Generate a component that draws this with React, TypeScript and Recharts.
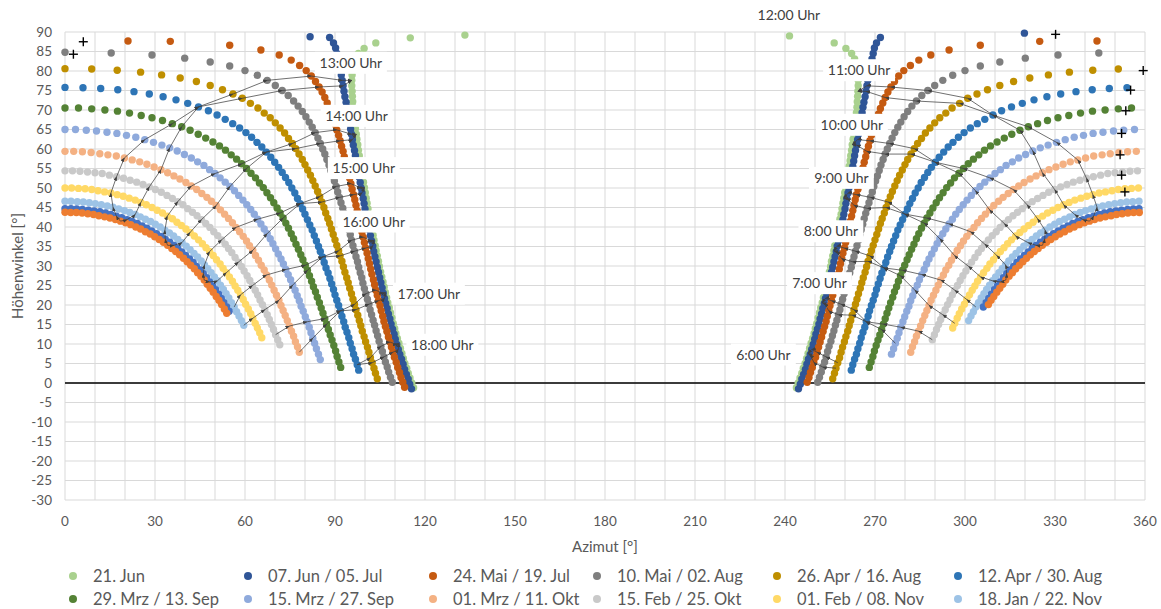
import React from 'react';
import { ScatterChart, Scatter, XAxis, YAxis, CartesianGrid, ReferenceLine, ReferenceDot } from 'recharts';

type Pt = [number, number];

const AZ_TICKS = [0, 10, 20, 30, 40, 50, 60, 70, 80, 90, 100, 110, 120, 130, 140, 150, 160, 170, 180, 190, 200, 210, 220, 230, 240, 250, 260, 270, 280, 290, 300, 310, 320, 330, 340, 350, 360];
const EL_TICKS = [-30, -25, -20, -15, -10, -5, 0, 5, 10, 15, 20, 25, 30, 35, 40, 45, 50, 55, 60, 65, 70, 75, 80, 85, 90];

// sun positions [azimut, höhenwinkel] every 6 minutes, afternoon then morning
const jun21: Pt[] = [
  [133.3,89.2],[115.1,88.5],[103.6,87.2],[99.7,85.8],[97.8,84.5],[96.8,83.1],[96.2,81.7],[95.9,80.3],[95.7,79.0],[95.6,77.6],[95.6,76.2],[95.7,74.8],[95.8,73.5],[95.9,72.1],[96.0,70.7],[96.2,69.3],[96.4,68.0],[96.6,66.6],[96.8,65.2],[97.1,63.8],[97.3,62.5],[97.6,61.1],[97.8,59.7],[98.1,58.3],[98.3,57.0],[98.6,55.6],[98.9,54.2],[99.2,52.9],[99.5,51.5],[99.8,50.1],[100.1,48.8],[100.4,47.4],[100.7,46.1],[101.0,44.7],[101.3,43.3],[101.7,42.0],[102.0,40.6],[102.3,39.3],[102.7,37.9],[103.0,36.6],[103.4,35.2],[103.7,33.9],[104.1,32.6],[104.5,31.2],[104.8,29.9],[105.2,28.5],[105.6,27.2],[106.0,25.9],[106.4,24.6],[106.8,23.2],[107.2,21.9],[107.6,20.6],[108.1,19.3],[108.5,18.0],[109.0,16.7],[109.4,15.3],[109.9,14.0],[110.3,12.7],[110.8,11.4],[111.3,10.2],[111.8,8.9],[112.3,7.6],[112.8,6.3],[113.3,5.0],[113.9,3.8],[114.4,2.5],[115.0,1.3],[115.6,0.0],[116.2,-1.2],
  [243.8,-1.2],[244.4,0.0],[245.0,1.3],[245.6,2.5],[246.1,3.8],[246.7,5.0],[247.2,6.3],[247.7,7.6],[248.2,8.9],[248.7,10.2],[249.2,11.4],[249.7,12.7],[250.1,14.0],[250.6,15.3],[251.0,16.7],[251.5,18.0],[251.9,19.3],[252.4,20.6],[252.8,21.9],[253.2,23.2],[253.6,24.6],[254.0,25.9],[254.4,27.2],[254.8,28.5],[255.2,29.9],[255.5,31.2],[255.9,32.6],[256.3,33.9],[256.6,35.2],[257.0,36.6],[257.3,37.9],[257.7,39.3],[258.0,40.6],[258.3,42.0],[258.7,43.3],[259.0,44.7],[259.3,46.1],[259.6,47.4],[259.9,48.8],[260.2,50.1],[260.5,51.5],[260.8,52.9],[261.1,54.2],[261.4,55.6],[261.7,57.0],[261.9,58.3],[262.2,59.7],[262.4,61.1],[262.7,62.5],[262.9,63.8],[263.2,65.2],[263.4,66.6],[263.6,68.0],[263.8,69.3],[264.0,70.7],[264.1,72.1],[264.2,73.5],[264.3,74.8],[264.4,76.2],[264.4,77.6],[264.3,79.0],[264.1,80.3],[263.8,81.7],[263.2,83.1],[262.2,84.5],[260.3,85.8],[256.4,87.2],[241.5,89.0],
];
const jun07: Pt[] = [
  [81.7,88.8],[88.2,88.6],[89.5,87.2],[90.2,85.9],[90.6,84.5],[91.0,83.1],[91.4,81.7],[91.7,80.3],[92.1,79.0],[92.4,77.6],[92.7,76.2],[93.0,74.8],[93.3,73.4],[93.7,72.0],[94.0,70.7],[94.3,69.3],[94.6,67.9],[94.9,66.5],[95.2,65.1],[95.5,63.8],[95.8,62.4],[96.1,61.0],[96.5,59.6],[96.8,58.3],[97.1,56.9],[97.4,55.5],[97.7,54.2],[98.0,52.8],[98.4,51.4],[98.7,50.0],[99.0,48.7],[99.4,47.3],[99.7,46.0],[100.0,44.6],[100.4,43.2],[100.7,41.9],[101.1,40.5],[101.5,39.2],[101.8,37.8],[102.2,36.4],[102.6,35.1],[102.9,33.7],[103.3,32.4],[103.7,31.1],[104.1,29.7],[104.5,28.4],[104.9,27.0],[105.3,25.7],[105.7,24.4],[106.1,23.0],[106.5,21.7],[106.9,20.4],[107.4,19.1],[107.8,17.7],[108.3,16.4],[108.7,15.1],[109.2,13.8],[109.7,12.5],[110.1,11.2],[110.6,9.9],[111.1,8.6],[111.6,7.3],[112.2,6.1],[112.7,4.8],[113.2,3.5],[113.8,2.2],[114.4,1.0],[114.9,-0.3],[115.5,-1.5],
  [244.5,-1.5],[245.1,-0.3],[245.6,1.0],[246.2,2.2],[246.8,3.5],[247.3,4.8],[247.8,6.1],[248.4,7.3],[248.9,8.6],[249.4,9.9],[249.9,11.2],[250.3,12.5],[250.8,13.8],[251.3,15.1],[251.7,16.4],[252.2,17.7],[252.6,19.1],[253.1,20.4],[253.5,21.7],[253.9,23.0],[254.3,24.4],[254.7,25.7],[255.1,27.0],[255.5,28.4],[255.9,29.7],[256.3,31.1],[256.7,32.4],[257.1,33.7],[257.4,35.1],[257.8,36.4],[258.2,37.8],[258.5,39.2],[258.9,40.5],[259.3,41.9],[259.6,43.2],[260.0,44.6],[260.3,46.0],[260.6,47.3],[261.0,48.7],[261.3,50.0],[261.6,51.4],[262.0,52.8],[262.3,54.2],[262.6,55.5],[262.9,56.9],[263.2,58.3],[263.5,59.6],[263.9,61.0],[264.2,62.4],[264.5,63.8],[264.8,65.1],[265.1,66.5],[265.4,67.9],[265.7,69.3],[266.0,70.7],[266.3,72.0],[266.7,73.4],[267.0,74.8],[267.3,76.2],[267.6,77.6],[267.9,79.0],[268.3,80.3],[268.6,81.7],[269.0,83.1],[269.4,84.5],[269.8,85.9],[270.5,87.2],[271.8,88.6],[319.8,89.7],
];
const mai24: Pt[] = [
  [21.0,87.7],[35.1,87.6],[54.9,86.6],[65.3,85.4],[71.4,84.1],[75.4,82.8],[78.2,81.4],[80.4,80.1],[82.1,78.7],[83.5,77.3],[84.7,75.9],[85.7,74.6],[86.6,73.2],[87.4,71.8],[88.2,70.4],[88.8,69.0],[89.5,67.7],[90.1,66.3],[90.6,64.9],[91.2,63.5],[91.7,62.1],[92.2,60.7],[92.7,59.4],[93.1,58.0],[93.6,56.6],[94.0,55.2],[94.5,53.8],[94.9,52.5],[95.3,51.1],[95.7,49.7],[96.2,48.3],[96.6,47.0],[97.0,45.6],[97.4,44.2],[97.8,42.8],[98.2,41.5],[98.6,40.1],[99.0,38.7],[99.4,37.4],[99.8,36.0],[100.2,34.6],[100.7,33.3],[101.1,31.9],[101.5,30.6],[101.9,29.2],[102.3,27.9],[102.8,26.5],[103.2,25.2],[103.6,23.8],[104.1,22.5],[104.5,21.1],[105.0,19.8],[105.4,18.5],[105.9,17.1],[106.3,15.8],[106.8,14.5],[107.3,13.2],[107.8,11.8],[108.3,10.5],[108.8,9.2],[109.3,7.9],[109.8,6.6],[110.4,5.3],[110.9,4.0],[111.5,2.7],[112.0,1.4],[112.6,0.2],[113.2,-1.1],
  [247.4,0.2],[248.0,1.4],[248.5,2.7],[249.1,4.0],[249.6,5.3],[250.2,6.6],[250.7,7.9],[251.2,9.2],[251.7,10.5],[252.2,11.8],[252.7,13.2],[253.2,14.5],[253.7,15.8],[254.1,17.1],[254.6,18.5],[255.0,19.8],[255.5,21.1],[255.9,22.5],[256.4,23.8],[256.8,25.2],[257.2,26.5],[257.7,27.9],[258.1,29.2],[258.5,30.6],[258.9,31.9],[259.3,33.3],[259.8,34.6],[260.2,36.0],[260.6,37.4],[261.0,38.7],[261.4,40.1],[261.8,41.5],[262.2,42.8],[262.6,44.2],[263.0,45.6],[263.4,47.0],[263.8,48.3],[264.3,49.7],[264.7,51.1],[265.1,52.5],[265.5,53.8],[266.0,55.2],[266.4,56.6],[266.9,58.0],[267.3,59.4],[267.8,60.7],[268.3,62.1],[268.8,63.5],[269.4,64.9],[269.9,66.3],[270.5,67.7],[271.2,69.0],[271.8,70.4],[272.6,71.8],[273.4,73.2],[274.3,74.6],[275.3,75.9],[276.5,77.3],[277.9,78.7],[279.6,80.1],[281.8,81.4],[284.6,82.8],[288.6,84.1],[294.7,85.4],[305.1,86.6],[324.9,87.6],[344.0,87.7],
];
const mai10: Pt[] = [
  [0.0,84.8],[15.4,84.6],[29.0,84.1],[39.9,83.3],[48.4,82.3],[54.9,81.3],[60.0,80.1],[64.1,78.9],[67.4,77.6],[70.1,76.3],[72.4,75.0],[74.4,73.7],[76.2,72.3],[77.7,71.0],[79.1,69.6],[80.3,68.3],[81.4,66.9],[82.4,65.6],[83.4,64.2],[84.3,62.8],[85.1,61.4],[85.9,60.0],[86.6,58.7],[87.3,57.3],[88.0,55.9],[88.6,54.5],[89.2,53.1],[89.8,51.8],[90.4,50.4],[90.9,49.0],[91.5,47.6],[92.0,46.2],[92.6,44.8],[93.1,43.5],[93.6,42.1],[94.1,40.7],[94.6,39.3],[95.1,38.0],[95.5,36.6],[96.0,35.2],[96.5,33.8],[97.0,32.4],[97.5,31.1],[97.9,29.7],[98.4,28.3],[98.9,27.0],[99.3,25.6],[99.8,24.2],[100.3,22.9],[100.8,21.5],[101.3,20.2],[101.7,18.8],[102.2,17.5],[102.7,16.1],[103.2,14.8],[103.7,13.4],[104.2,12.1],[104.7,10.7],[105.3,9.4],[105.8,8.1],[106.3,6.7],[106.8,5.4],[107.4,4.1],[107.9,2.8],[108.5,1.5],[109.1,0.2],
  [250.9,0.2],[251.5,1.5],[252.1,2.8],[252.6,4.1],[253.2,5.4],[253.7,6.7],[254.2,8.1],[254.7,9.4],[255.3,10.7],[255.8,12.1],[256.3,13.4],[256.8,14.8],[257.3,16.1],[257.8,17.5],[258.3,18.8],[258.7,20.2],[259.2,21.5],[259.7,22.9],[260.2,24.2],[260.7,25.6],[261.1,27.0],[261.6,28.3],[262.1,29.7],[262.5,31.1],[263.0,32.4],[263.5,33.8],[264.0,35.2],[264.5,36.6],[264.9,38.0],[265.4,39.3],[265.9,40.7],[266.4,42.1],[266.9,43.5],[267.4,44.8],[268.0,46.2],[268.5,47.6],[269.1,49.0],[269.6,50.4],[270.2,51.8],[270.8,53.1],[271.4,54.5],[272.0,55.9],[272.7,57.3],[273.4,58.7],[274.1,60.0],[274.9,61.4],[275.7,62.8],[276.6,64.2],[277.6,65.6],[278.6,66.9],[279.7,68.3],[280.9,69.6],[282.3,71.0],[283.8,72.3],[285.6,73.7],[287.6,75.0],[289.9,76.3],[292.6,77.6],[295.9,78.9],[300.0,80.1],[305.1,81.3],[311.6,82.3],[320.1,83.3],[331.0,84.1],[344.6,84.6],
];
const apr26: Pt[] = [
  [0.0,80.6],[8.9,80.5],[17.4,80.2],[25.2,79.7],[32.2,79.0],[38.4,78.2],[43.8,77.3],[48.4,76.3],[52.5,75.2],[56.0,74.1],[59.1,73.0],[61.8,71.7],[64.3,70.5],[66.4,69.2],[68.4,68.0],[70.1,66.7],[71.7,65.4],[73.2,64.1],[74.5,62.7],[75.8,61.4],[76.9,60.1],[78.0,58.7],[79.1,57.3],[80.0,56.0],[80.9,54.6],[81.8,53.3],[82.6,51.9],[83.4,50.5],[84.2,49.1],[84.9,47.8],[85.6,46.4],[86.3,45.0],[86.9,43.6],[87.6,42.2],[88.2,40.9],[88.8,39.5],[89.4,38.1],[90.0,36.7],[90.6,35.3],[91.2,33.9],[91.7,32.6],[92.3,31.2],[92.8,29.8],[93.3,28.4],[93.9,27.0],[94.4,25.7],[94.9,24.3],[95.5,22.9],[96.0,21.5],[96.5,20.2],[97.0,18.8],[97.6,17.4],[98.1,16.0],[98.6,14.7],[99.1,13.3],[99.7,11.9],[100.2,10.6],[100.8,9.2],[101.3,7.9],[101.8,6.5],[102.4,5.2],[103.0,3.8],[103.5,2.5],[104.1,1.1],
  [255.9,1.1],[256.5,2.5],[257.0,3.8],[257.6,5.2],[258.2,6.5],[258.7,7.9],[259.2,9.2],[259.8,10.6],[260.3,11.9],[260.9,13.3],[261.4,14.7],[261.9,16.0],[262.4,17.4],[263.0,18.8],[263.5,20.2],[264.0,21.5],[264.5,22.9],[265.1,24.3],[265.6,25.7],[266.1,27.0],[266.7,28.4],[267.2,29.8],[267.7,31.2],[268.3,32.6],[268.8,33.9],[269.4,35.3],[270.0,36.7],[270.6,38.1],[271.2,39.5],[271.8,40.9],[272.4,42.2],[273.1,43.6],[273.7,45.0],[274.4,46.4],[275.1,47.8],[275.8,49.1],[276.6,50.5],[277.4,51.9],[278.2,53.3],[279.1,54.6],[280.0,56.0],[280.9,57.3],[282.0,58.7],[283.1,60.1],[284.2,61.4],[285.5,62.7],[286.8,64.1],[288.3,65.4],[289.9,66.7],[291.6,68.0],[293.6,69.2],[295.7,70.5],[298.2,71.7],[300.9,73.0],[304.0,74.1],[307.5,75.2],[311.6,76.3],[316.2,77.3],[321.6,78.2],[327.8,79.0],[334.8,79.7],[342.6,80.2],[351.1,80.5],
];
const apr12: Pt[] = [
  [0.0,75.8],[6.0,75.7],[11.9,75.5],[17.6,75.2],[23.0,74.7],[28.1,74.1],[32.7,73.4],[37.0,72.6],[40.9,71.7],[44.5,70.8],[47.8,69.8],[50.7,68.7],[53.4,67.6],[55.9,66.5],[58.2,65.4],[60.3,64.2],[62.2,63.0],[64.0,61.7],[65.6,60.5],[67.1,59.2],[68.6,57.9],[69.9,56.6],[71.2,55.3],[72.4,54.0],[73.5,52.7],[74.6,51.4],[75.6,50.0],[76.6,48.7],[77.5,47.3],[78.4,46.0],[79.2,44.6],[80.0,43.3],[80.8,41.9],[81.6,40.5],[82.4,39.2],[83.1,37.8],[83.8,36.4],[84.5,35.0],[85.1,33.7],[85.8,32.3],[86.4,30.9],[87.0,29.5],[87.7,28.2],[88.3,26.8],[88.9,25.4],[89.5,24.0],[90.0,22.6],[90.6,21.2],[91.2,19.9],[91.8,18.5],[92.3,17.1],[92.9,15.7],[93.4,14.3],[94.0,13.0],[94.6,11.6],[95.1,10.2],[95.7,8.8],[96.2,7.4],[96.8,6.1],[97.4,4.7],[97.9,3.3],
  [262.1,3.3],[262.6,4.7],[263.2,6.1],[263.8,7.4],[264.3,8.8],[264.9,10.2],[265.4,11.6],[266.0,13.0],[266.6,14.3],[267.1,15.7],[267.7,17.1],[268.2,18.5],[268.8,19.9],[269.4,21.2],[270.0,22.6],[270.5,24.0],[271.1,25.4],[271.7,26.8],[272.3,28.2],[273.0,29.5],[273.6,30.9],[274.2,32.3],[274.9,33.7],[275.5,35.0],[276.2,36.4],[276.9,37.8],[277.6,39.2],[278.4,40.5],[279.2,41.9],[280.0,43.3],[280.8,44.6],[281.6,46.0],[282.5,47.3],[283.4,48.7],[284.4,50.0],[285.4,51.4],[286.5,52.7],[287.6,54.0],[288.8,55.3],[290.1,56.6],[291.4,57.9],[292.9,59.2],[294.4,60.5],[296.0,61.7],[297.8,63.0],[299.7,64.2],[301.8,65.4],[304.1,66.5],[306.6,67.6],[309.3,68.7],[312.2,69.8],[315.5,70.8],[319.1,71.7],[323.0,72.6],[327.3,73.4],[331.9,74.1],[337.0,74.7],[342.4,75.2],[348.1,75.5],[354.0,75.7],
];
const mrz29: Pt[] = [
  [0.0,70.5],[4.5,70.5],[8.9,70.3],[13.3,70.0],[17.5,69.7],[21.5,69.2],[25.4,68.6],[29.0,68.0],[32.5,67.3],[35.8,66.5],[38.9,65.7],[41.7,64.8],[44.4,63.8],[46.9,62.8],[49.3,61.8],[51.5,60.8],[53.5,59.7],[55.4,58.5],[57.2,57.4],[58.9,56.2],[60.5,55.0],[62.0,53.8],[63.5,52.6],[64.8,51.3],[66.1,50.1],[67.3,48.8],[68.5,47.5],[69.6,46.2],[70.7,44.9],[71.7,43.6],[72.7,42.3],[73.6,41.0],[74.5,39.7],[75.4,38.3],[76.2,37.0],[77.0,35.6],[77.8,34.3],[78.6,32.9],[79.3,31.6],[80.1,30.2],[80.8,28.9],[81.5,27.5],[82.2,26.1],[82.8,24.7],[83.5,23.4],[84.1,22.0],[84.8,20.6],[85.4,19.2],[86.0,17.9],[86.6,16.5],[87.2,15.1],[87.8,13.7],[88.4,12.3],[89.0,11.0],[89.6,9.6],[90.2,8.2],[90.7,6.8],[91.3,5.4],[91.9,4.0],
  [268.1,4.0],[268.7,5.4],[269.3,6.8],[269.8,8.2],[270.4,9.6],[271.0,11.0],[271.6,12.3],[272.2,13.7],[272.8,15.1],[273.4,16.5],[274.0,17.9],[274.6,19.2],[275.2,20.6],[275.9,22.0],[276.5,23.4],[277.2,24.7],[277.8,26.1],[278.5,27.5],[279.2,28.9],[279.9,30.2],[280.7,31.6],[281.4,32.9],[282.2,34.3],[283.0,35.6],[283.8,37.0],[284.6,38.3],[285.5,39.7],[286.4,41.0],[287.3,42.3],[288.3,43.6],[289.3,44.9],[290.4,46.2],[291.5,47.5],[292.7,48.8],[293.9,50.1],[295.2,51.3],[296.5,52.6],[298.0,53.8],[299.5,55.0],[301.1,56.2],[302.8,57.4],[304.6,58.5],[306.5,59.7],[308.5,60.8],[310.7,61.8],[313.1,62.8],[315.6,63.8],[318.3,64.8],[321.1,65.7],[324.2,66.5],[327.5,67.3],[331.0,68.0],[334.6,68.6],[338.5,69.2],[342.5,69.7],[346.7,70.0],[351.1,70.3],[355.5,70.5],
];
const mrz15: Pt[] = [
  [0.0,65.0],[3.5,65.0],[7.1,64.8],[10.5,64.6],[14.0,64.3],[17.3,64.0],[20.5,63.5],[23.6,63.0],[26.6,62.4],[29.5,61.7],[32.3,61.0],[34.9,60.3],[37.4,59.5],[39.8,58.6],[42.1,57.7],[44.2,56.7],[46.3,55.8],[48.2,54.7],[50.0,53.7],[51.7,52.6],[53.4,51.5],[55.0,50.4],[56.5,49.3],[57.9,48.1],[59.3,46.9],[60.6,45.7],[61.9,44.5],[63.1,43.3],[64.2,42.0],[65.3,40.8],[66.4,39.5],[67.4,38.3],[68.4,37.0],[69.3,35.7],[70.2,34.4],[71.1,33.1],[72.0,31.8],[72.8,30.5],[73.6,29.1],[74.4,27.8],[75.2,26.5],[75.9,25.1],[76.7,23.8],[77.4,22.4],[78.1,21.1],[78.7,19.7],[79.4,18.4],[80.1,17.0],[80.7,15.7],[81.4,14.3],[82.0,12.9],[82.6,11.5],[83.2,10.2],[83.8,8.8],[84.5,7.4],[85.1,6.0],
  [275.5,7.4],[276.2,8.8],[276.8,10.2],[277.4,11.5],[278.0,12.9],[278.6,14.3],[279.3,15.7],[279.9,17.0],[280.6,18.4],[281.3,19.7],[281.9,21.1],[282.6,22.4],[283.3,23.8],[284.1,25.1],[284.8,26.5],[285.6,27.8],[286.4,29.1],[287.2,30.5],[288.0,31.8],[288.9,33.1],[289.8,34.4],[290.7,35.7],[291.6,37.0],[292.6,38.3],[293.6,39.5],[294.7,40.8],[295.8,42.0],[296.9,43.3],[298.1,44.5],[299.4,45.7],[300.7,46.9],[302.1,48.1],[303.5,49.3],[305.0,50.4],[306.6,51.5],[308.3,52.6],[310.0,53.7],[311.8,54.7],[313.7,55.8],[315.8,56.7],[317.9,57.7],[320.2,58.6],[322.6,59.5],[325.1,60.3],[327.7,61.0],[330.5,61.7],[333.4,62.4],[336.4,63.0],[339.5,63.5],[342.7,64.0],[346.0,64.3],[349.5,64.6],[352.9,64.8],[356.5,65.0],
];
const mrz01: Pt[] = [
  [0.0,59.4],[2.9,59.4],[5.8,59.3],[8.7,59.1],[11.6,58.8],[14.3,58.5],[17.1,58.2],[19.8,57.7],[22.4,57.2],[24.9,56.7],[27.3,56.1],[29.7,55.4],[32.0,54.7],[34.2,53.9],[36.3,53.1],[38.3,52.3],[40.3,51.4],[42.1,50.5],[43.9,49.6],[45.6,48.6],[47.3,47.6],[48.8,46.6],[50.4,45.5],[51.8,44.4],[53.2,43.3],[54.5,42.2],[55.8,41.1],[57.0,39.9],[58.2,38.8],[59.4,37.6],[60.5,36.4],[61.5,35.2],[62.6,34.0],[63.5,32.7],[64.5,31.5],[65.4,30.2],[66.4,29.0],[67.2,27.7],[68.1,26.4],[68.9,25.1],[69.7,23.8],[70.5,22.5],[71.3,21.2],[72.0,19.9],[72.7,18.6],[73.4,17.3],[74.1,16.0],[74.8,14.6],[75.5,13.3],[76.2,12.0],[76.8,10.6],[77.5,9.3],[78.1,7.9],
  [281.9,7.9],[282.5,9.3],[283.2,10.6],[283.8,12.0],[284.5,13.3],[285.2,14.6],[285.9,16.0],[286.6,17.3],[287.3,18.6],[288.0,19.9],[288.7,21.2],[289.5,22.5],[290.3,23.8],[291.1,25.1],[291.9,26.4],[292.8,27.7],[293.6,29.0],[294.6,30.2],[295.5,31.5],[296.5,32.7],[297.4,34.0],[298.5,35.2],[299.5,36.4],[300.6,37.6],[301.8,38.8],[303.0,39.9],[304.2,41.1],[305.5,42.2],[306.8,43.3],[308.2,44.4],[309.6,45.5],[311.2,46.6],[312.7,47.6],[314.4,48.6],[316.1,49.6],[317.9,50.5],[319.7,51.4],[321.7,52.3],[323.7,53.1],[325.8,53.9],[328.0,54.7],[330.3,55.4],[332.7,56.1],[335.1,56.7],[337.6,57.2],[340.2,57.7],[342.9,58.2],[345.7,58.5],[348.4,58.8],[351.3,59.1],[354.2,59.3],[357.1,59.4],
];
const feb15: Pt[] = [
  [0.0,54.4],[2.5,54.4],[5.0,54.3],[7.5,54.1],[10.0,53.9],[12.4,53.7],[14.8,53.3],[17.2,52.9],[19.5,52.5],[21.7,52.0],[23.9,51.5],[26.0,50.9],[28.1,50.3],[30.1,49.6],[32.1,48.9],[34.0,48.1],[35.8,47.3],[37.6,46.5],[39.3,45.7],[40.9,44.7],[42.5,43.8],[44.0,42.9],[45.5,41.9],[46.9,40.9],[48.3,39.9],[49.6,38.8],[50.9,37.8],[52.2,36.7],[53.4,35.6],[54.5,34.5],[55.6,33.4],[56.7,32.2],[57.8,31.0],[58.8,29.9],[59.7,28.7],[60.7,27.5],[61.6,26.3],[62.5,25.0],[63.4,23.8],[64.2,22.6],[65.0,21.3],[65.8,20.1],[66.6,18.8],[67.4,17.5],[68.1,16.3],[68.8,15.0],[69.5,13.7],[70.2,12.4],[70.9,11.1],[71.6,9.8],
  [289.1,11.1],[289.8,12.4],[290.5,13.7],[291.2,15.0],[291.9,16.3],[292.6,17.5],[293.4,18.8],[294.2,20.1],[295.0,21.3],[295.8,22.6],[296.6,23.8],[297.5,25.0],[298.4,26.3],[299.3,27.5],[300.3,28.7],[301.2,29.9],[302.2,31.0],[303.3,32.2],[304.4,33.4],[305.5,34.5],[306.6,35.6],[307.8,36.7],[309.1,37.8],[310.4,38.8],[311.7,39.9],[313.1,40.9],[314.5,41.9],[316.0,42.9],[317.5,43.8],[319.1,44.7],[320.7,45.7],[322.4,46.5],[324.2,47.3],[326.0,48.1],[327.9,48.9],[329.9,49.6],[331.9,50.3],[334.0,50.9],[336.1,51.5],[338.3,52.0],[340.5,52.5],[342.8,52.9],[345.2,53.3],[347.6,53.7],[350.0,53.9],[352.5,54.1],[355.0,54.3],[357.5,54.4],
];
const feb01: Pt[] = [
  [0.0,50.0],[2.2,50.0],[4.5,49.9],[6.7,49.8],[8.9,49.6],[11.0,49.3],[13.2,49.0],[15.3,48.7],[17.4,48.3],[19.4,47.9],[21.4,47.4],[23.4,46.9],[25.3,46.3],[27.1,45.7],[29.0,45.0],[30.7,44.3],[32.5,43.6],[34.1,42.8],[35.8,42.1],[37.3,41.2],[38.8,40.4],[40.3,39.5],[41.7,38.6],[43.1,37.7],[44.5,36.7],[45.8,35.7],[47.0,34.7],[48.2,33.7],[49.4,32.7],[50.5,31.6],[51.7,30.5],[52.7,29.4],[53.8,28.3],[54.8,27.2],[55.8,26.1],[56.7,24.9],[57.6,23.8],[58.5,22.6],[59.4,21.4],[60.2,20.2],[61.1,19.0],[61.9,17.8],[62.6,16.6],[63.4,15.3],[64.1,14.1],[64.9,12.9],[65.6,11.6],
  [295.9,14.1],[296.6,15.3],[297.4,16.6],[298.1,17.8],[298.9,19.0],[299.8,20.2],[300.6,21.4],[301.5,22.6],[302.4,23.8],[303.3,24.9],[304.2,26.1],[305.2,27.2],[306.2,28.3],[307.3,29.4],[308.3,30.5],[309.5,31.6],[310.6,32.7],[311.8,33.7],[313.0,34.7],[314.2,35.7],[315.5,36.7],[316.9,37.7],[318.3,38.6],[319.7,39.5],[321.2,40.4],[322.7,41.2],[324.2,42.1],[325.9,42.8],[327.5,43.6],[329.3,44.3],[331.0,45.0],[332.9,45.7],[334.7,46.3],[336.6,46.9],[338.6,47.4],[340.6,47.9],[342.6,48.3],[344.7,48.7],[346.8,49.0],[349.0,49.3],[351.1,49.6],[353.3,49.8],[355.5,49.9],[357.8,50.0],
];
const jan18: Pt[] = [
  [0.0,46.6],[2.0,46.6],[4.1,46.5],[6.1,46.4],[8.1,46.2],[10.1,46.0],[12.1,45.7],[14.1,45.4],[16.0,45.1],[17.9,44.6],[19.8,44.2],[21.6,43.7],[23.4,43.2],[25.1,42.6],[26.8,42.0],[28.5,41.4],[30.1,40.7],[31.7,40.0],[33.3,39.2],[34.8,38.5],[36.2,37.7],[37.6,36.8],[39.0,36.0],[40.4,35.1],[41.7,34.2],[43.0,33.2],[44.2,32.3],[45.4,31.3],[46.5,30.3],[47.6,29.3],[48.7,28.3],[49.8,27.2],[50.8,26.2],[51.8,25.1],[52.8,24.0],[53.7,22.9],[54.6,21.8],[55.5,20.6],[56.4,19.5],[57.2,18.3],[58.0,17.2],[58.8,16.0],[59.6,14.8],
  [301.2,16.0],[302.0,17.2],[302.8,18.3],[303.6,19.5],[304.5,20.6],[305.4,21.8],[306.3,22.9],[307.2,24.0],[308.2,25.1],[309.2,26.2],[310.2,27.2],[311.3,28.3],[312.4,29.3],[313.5,30.3],[314.6,31.3],[315.8,32.3],[317.0,33.2],[318.3,34.2],[319.6,35.1],[321.0,36.0],[322.4,36.8],[323.8,37.7],[325.2,38.5],[326.7,39.2],[328.3,40.0],[329.9,40.7],[331.5,41.4],[333.2,42.0],[334.9,42.6],[336.6,43.2],[338.4,43.7],[340.2,44.2],[342.1,44.6],[344.0,45.1],[345.9,45.4],[347.9,45.7],[349.9,46.0],[351.9,46.2],[353.9,46.4],[355.9,46.5],[358.0,46.6],
];
const dez06: Pt[] = [
  [0.0,44.7],[2.0,44.7],[3.9,44.6],[5.8,44.5],[7.8,44.3],[9.7,44.1],[11.6,43.9],[13.5,43.6],[15.3,43.2],[17.1,42.8],[18.9,42.4],[20.7,41.9],[22.4,41.4],[24.1,40.9],[25.7,40.3],[27.3,39.7],[28.9,39.0],[30.5,38.3],[32.0,37.6],[33.4,36.9],[34.9,36.1],[36.3,35.3],[37.6,34.5],[38.9,33.6],[40.2,32.7],[41.5,31.8],[42.7,30.9],[43.8,29.9],[45.0,29.0],[46.1,28.0],[47.2,27.0],[48.2,25.9],[49.2,24.9],[50.2,23.9],[51.2,22.8],[52.1,21.7],[53.0,20.6],[53.9,19.5],[54.7,18.4],
  [306.1,19.5],[307.0,20.6],[307.9,21.7],[308.8,22.8],[309.8,23.9],[310.8,24.9],[311.8,25.9],[312.8,27.0],[313.9,28.0],[315.0,29.0],[316.2,29.9],[317.3,30.9],[318.5,31.8],[319.8,32.7],[321.1,33.6],[322.4,34.5],[323.7,35.3],[325.1,36.1],[326.6,36.9],[328.0,37.6],[329.5,38.3],[331.1,39.0],[332.7,39.7],[334.3,40.3],[335.9,40.9],[337.6,41.4],[339.3,41.9],[341.1,42.4],[342.9,42.8],[344.7,43.2],[346.5,43.6],[348.4,43.9],[350.3,44.1],[352.2,44.3],[354.2,44.5],[356.1,44.6],[358.0,44.7],
];
const dez21: Pt[] = [
  [0.0,43.8],[1.9,43.7],[3.8,43.7],[5.7,43.6],[7.6,43.4],[9.5,43.2],[11.3,42.9],[13.2,42.6],[15.0,42.3],[16.8,41.9],[18.5,41.5],[20.2,41.1],[21.9,40.6],[23.6,40.0],[25.2,39.5],[26.8,38.8],[28.4,38.2],[29.9,37.5],[31.4,36.8],[32.8,36.1],[34.2,35.3],[35.6,34.5],[36.9,33.7],[38.2,32.9],[39.5,32.0],[40.7,31.1],[41.9,30.2],[43.1,29.3],[44.2,28.3],[45.3,27.4],[46.4,26.4],[47.4,25.3],[48.4,24.3],[49.4,23.3],[50.4,22.2],[51.3,21.2],[52.2,20.1],[53.1,19.0],[53.9,17.9],
  [307.8,20.1],[308.7,21.2],[309.6,22.2],[310.6,23.3],[311.6,24.3],[312.6,25.3],[313.6,26.4],[314.7,27.4],[315.8,28.3],[316.9,29.3],[318.1,30.2],[319.3,31.1],[320.5,32.0],[321.8,32.9],[323.1,33.7],[324.4,34.5],[325.8,35.3],[327.2,36.1],[328.6,36.8],[330.1,37.5],[331.6,38.2],[333.2,38.8],[334.8,39.5],[336.4,40.0],[338.1,40.6],[339.8,41.1],[341.5,41.5],[343.2,41.9],[345.0,42.3],[346.8,42.6],[348.7,42.9],[350.5,43.2],[352.4,43.4],[354.3,43.6],[356.2,43.7],[358.1,43.7],
];

const SERIES = [
  { name: '21. Jun', color: '#A9D18E', points: jun21, legend: true },
  { name: '07. Jun / 05. Jul', color: '#2F5597', points: jun07, legend: true },
  { name: '24. Mai / 19. Jul', color: '#C55A11', points: mai24, legend: true },
  { name: '10. Mai / 02. Aug', color: '#7F7F7F', points: mai10, legend: true },
  { name: '26. Apr / 16. Aug', color: '#BF8F00', points: apr26, legend: true },
  { name: '12. Apr / 30. Aug', color: '#2E75B6', points: apr12, legend: true },
  { name: '29. Mrz / 13. Sep', color: '#548235', points: mrz29, legend: true },
  { name: '15. Mrz / 27. Sep', color: '#8FAADC', points: mrz15, legend: true },
  { name: '01. Mrz / 11. Okt', color: '#F4B183', points: mrz01, legend: true },
  { name: '15. Feb / 25. Okt', color: '#C9C9C9', points: feb15, legend: true },
  { name: '01. Feb / 08. Nov', color: '#FFD966', points: feb01, legend: true },
  { name: '18. Jan / 22. Nov', color: '#9DC3E6', points: jan18, legend: true },
  { name: '04. Jan / 06. Dez', color: '#4472C4', points: dez06, legend: false },
  { name: '21. Dez', color: '#ED7D31', points: dez21, legend: false },
];

// hour lines (first and second half of the year), from winter to summer
const h06a: Pt[] = [[257.6,5.2],[253.7,6.7],[250.7,7.9],[248.9,8.6],[247.7,7.6]];
const h06b: Pt[] = [[257.0,3.8],[252.6,4.1],[249.6,5.3],[248.4,7.3],[247.7,7.6]];
const h07a: Pt[] = [[276.8,10.2],[272.2,13.7],[267.1,15.7],[263.0,18.8],[258.7,20.2],[255.5,21.1],[253.5,21.7],[252.4,20.6]];
const h07b: Pt[] = [[289.1,11.1],[284.5,13.3],[278.6,14.3],[272.8,15.1],[267.1,15.7],[262.4,17.4],[257.8,17.5],[254.6,18.5],[253.1,20.4],[252.4,20.6]];
const h08a: Pt[] = [[296.6,15.3],[292.6,17.5],[288.0,19.9],[283.3,23.8],[278.5,27.5],[273.0,29.5],[268.3,32.6],[263.5,33.8],[259.8,34.6],[257.4,35.1],[256.3,33.9]];
const h08b: Pt[] = [[303.6,19.5],[300.6,21.4],[296.6,23.8],[291.9,26.4],[285.6,27.8],[279.2,28.9],[273.0,29.5],[267.7,31.2],[262.5,31.1],[258.9,31.9],[257.1,33.7],[256.3,33.9]];
const h09a: Pt[] = [[313.6,26.4],[311.8,25.9],[309.2,26.2],[305.2,27.2],[301.2,29.9],[296.5,32.7],[291.6,37.0],[286.4,41.0],[280.0,43.3],[274.4,46.4],[268.5,47.6],[263.8,48.3],[261.0,48.7],[259.6,47.4]];
const h09b: Pt[] = [[313.6,26.4],[313.9,28.0],[313.5,30.3],[310.6,32.7],[306.6,35.6],[301.8,38.8],[294.7,40.8],[287.3,42.3],[280.0,43.3],[273.7,45.0],[267.4,44.8],[263.0,45.6],[260.6,47.3],[259.6,47.4]];
const h10a: Pt[] = [[325.8,35.3],[323.7,35.3],[321.0,36.0],[316.9,37.7],[313.1,40.9],[308.2,44.4],[303.5,49.3],[298.0,53.8],[290.1,56.6],[283.1,60.1],[274.9,61.4],[268.3,62.1],[264.2,62.4],[262.4,61.1]];
const h10b: Pt[] = [[325.8,35.3],[326.6,36.9],[326.7,39.2],[324.2,42.1],[320.7,45.7],[316.1,49.6],[308.3,52.6],[299.5,55.0],[290.1,56.6],[282.0,58.7],[273.4,58.7],[267.3,59.4],[263.9,61.0],[262.4,61.1]];
const h11a: Pt[] = [[341.5,41.5],[339.3,41.9],[336.6,43.2],[332.9,45.7],[329.9,49.6],[325.8,53.9],[322.6,59.5],[318.3,64.8],[309.3,68.7],[300.9,73.0],[287.6,75.0],[275.3,75.9],[267.3,76.2],[264.3,74.8]];
const h11b: Pt[] = [[341.5,41.5],[342.9,42.8],[344.0,45.1],[342.6,48.3],[340.5,52.5],[337.6,57.2],[330.5,61.7],[321.1,65.7],[309.3,68.7],[298.2,71.7],[283.8,72.3],[273.4,73.2],[267.0,74.8],[264.3,74.8]];
const h13a: Pt[] = [[18.5,41.5],[17.1,42.8],[16.0,45.1],[15.3,48.7],[17.2,52.9],[19.8,57.7],[26.6,62.4],[35.8,66.5],[44.5,70.8],[59.1,73.0],[72.4,75.0],[84.7,75.9],[92.7,76.2],[95.6,77.6]];
const h13b: Pt[] = [[18.5,41.5],[20.7,41.9],[23.4,43.2],[25.3,46.3],[28.1,50.3],[32.0,54.7],[34.9,60.3],[38.9,65.7],[44.5,70.8],[56.0,74.1],[67.4,77.6],[82.1,78.7],[92.4,77.6],[95.6,77.6]];
const h14a: Pt[] = [[34.2,35.3],[33.4,36.9],[33.3,39.2],[34.1,42.8],[37.6,46.5],[42.1,50.5],[50.0,53.7],[58.9,56.2],[67.1,59.2],[76.9,60.1],[85.1,61.4],[91.7,62.1],[95.8,62.4],[97.1,63.8]];
const h14b: Pt[] = [[34.2,35.3],[36.3,35.3],[39.0,36.0],[41.7,38.6],[45.5,41.9],[50.4,45.5],[55.0,50.4],[60.5,55.0],[67.1,59.2],[75.8,61.4],[83.4,64.2],[90.6,64.9],[95.5,63.8],[97.1,63.8]];
const h15a: Pt[] = [[46.4,26.4],[46.1,28.0],[46.5,30.3],[48.2,33.7],[52.2,36.7],[57.0,39.9],[64.2,42.0],[71.7,43.6],[78.4,46.0],[85.6,46.4],[91.5,47.6],[96.2,48.3],[99.0,48.7],[99.8,50.1]];
const h15b: Pt[] = [[46.4,26.4],[48.2,25.9],[50.8,26.2],[53.8,28.3],[57.8,31.0],[62.6,34.0],[67.4,38.3],[72.7,42.3],[78.4,46.0],[84.9,47.8],[90.4,50.4],[95.3,51.1],[98.7,50.0],[99.8,50.1]];
const h16a: Pt[] = [[56.4,19.5],[58.5,22.6],[62.5,25.0],[67.2,27.7],[73.6,29.1],[80.1,30.2],[85.8,32.3],[91.7,32.6],[96.5,33.8],[100.2,34.6],[102.6,35.1],[103.0,36.6]];
const h16b: Pt[] = [[59.6,14.8],[62.6,16.6],[66.6,18.8],[71.3,21.2],[75.9,25.1],[80.8,28.9],[85.8,32.3],[91.2,33.9],[95.5,36.6],[99.4,37.4],[102.2,36.4],[103.0,36.6]];
const h17a: Pt[] = [[70.2,12.4],[74.8,14.6],[80.7,15.7],[86.6,16.5],[91.8,18.5],[97.0,18.8],[101.3,20.2],[104.5,21.1],[106.5,21.7],[106.8,23.2]];
const h17b: Pt[] = [[78.1,7.9],[82.6,11.5],[87.2,15.1],[91.8,18.5],[96.5,20.2],[100.3,22.9],[103.6,23.8],[106.1,23.0],[106.8,23.2]];
const h18a: Pt[] = [[97.4,4.7],[102.4,5.2],[106.3,6.7],[109.3,7.9],[111.1,8.6],[111.3,10.2]];
const h18b: Pt[] = [[97.4,4.7],[101.8,6.5],[105.3,9.4],[108.3,10.5],[110.6,9.9],[111.3,10.2]];
const HOUR_LINES = [h06a, h06b, h07a, h07b, h08a, h08b, h09a, h09b, h10a, h10b, h11a, h11b, h13a, h13b, h14a, h14b, h15a, h15b, h16a, h16b, h17a, h17b, h18a, h18b];

// 12:00 positions
const noonMarks: Pt[] = [[330.2,89.4],[359.4,80.1],[355.2,75.1],[353.6,69.8],[352.2,64.0],[351.7,58.5],[352.2,53.3],[353.3,49.0],[6.1,87.5],[2.8,84.3]];

const LABEL_TEXT = ['6:00 Uhr', '7:00 Uhr', '8:00 Uhr', '9:00 Uhr', '10:00 Uhr', '11:00 Uhr', '12:00 Uhr', '13:00 Uhr', '14:00 Uhr', '15:00 Uhr', '16:00 Uhr', '17:00 Uhr', '18:00 Uhr'];
const LABEL_AZ = [232.8, 251.5, 255.3, 258.8, 262.3, 264.7, 241.3, 95.3, 97.2, 99.6, 102.9, 121.3, 125.8];
const LABEL_EL = [7.3, 25.6, 38.9, 52.6, 66.2, 80.2, 94.4, 82.1, 68.5, 55.1, 41.4, 22.9, 9.8];

const LEGEND_COLS = [73, 248, 433, 597, 777, 958];
const LEGEND_ROWS = [576, 599];

const toRows = (pts: Pt[]) => pts.map(([az, el]) => ({ az, el }));

const dotShape = (color: string) => (p: any) => <circle cx={p.cx} cy={p.cy} r={3.7} fill={color} />;
const noShape = () => <g />;
const plusShape = (p: any) => (
  <g stroke="#000" strokeWidth={1.4}>
    <line x1={p.cx - 4.5} x2={p.cx + 4.5} y1={p.cy} y2={p.cy} />
    <line x1={p.cx} x2={p.cx} y1={p.cy - 4.5} y2={p.cy + 4.5} />
  </g>
);

const HourLabel = ({ cx, cy, text }: any) => {
  const w = text.length * 7.1 + 8;
  return (
    <g>
      <rect x={cx - w / 2} y={cy - 11} width={w} height={22} fill="#fff" />
      <text x={cx} y={cy + 5} textAnchor="middle" fontSize={14} fill="#404040" fontFamily="Lato">{text}</text>
    </g>
  );
};

export default function App() {
  return (
    <div style={{ position: 'relative', width: 1161, height: 609, fontFamily: 'Lato', background: '#fff' }}>
      <style>{'body{margin:0}'}</style>
      <svg width={0} height={0} style={{ position: 'absolute' }}>
        <defs>
          <marker id="hourArrow" viewBox="0 0 10 8" refX="9" refY="4" markerWidth="4.5" markerHeight="3.6" orient="auto" markerUnits="userSpaceOnUse">
            <path d="M0,0 L10,4 L0,8 Z" fill="#404040" />
          </marker>
        </defs>
      </svg>
      <ScatterChart width={1161} height={609} margin={{ top: 32, right: 16, bottom: 49, left: 0 }}>
        <CartesianGrid stroke="#d9d9d9" strokeWidth={1} />
        <XAxis
          type="number"
          dataKey="az"
          domain={[0, 360]}
          ticks={AZ_TICKS}
          interval={0}
          tickFormatter={(v: number) => (v % 30 === 0 ? String(v) : '')}
          axisLine={false}
          tickLine={false}
          tick={{ fill: '#595959', fontSize: 13.5 }}
          tickMargin={10}
          height={60}
          label={{ value: 'Azimut [°]', position: 'insideBottom', offset: 8, fill: '#595959', fontSize: 15 }}
        />
        <YAxis
          type="number"
          dataKey="el"
          domain={[-30, 90]}
          ticks={EL_TICKS}
          interval={0}
          axisLine={false}
          tickLine={false}
          tick={{ fill: '#595959', fontSize: 13.5 }}
          tickMargin={7}
          width={65}
          label={{ value: 'Höhenwinkel [°]', angle: -90, position: 'insideLeft', offset: 18, fill: '#595959', fontSize: 15, style: { textAnchor: 'middle' } }}
        />
        <ReferenceLine y={0} stroke="#000" strokeWidth={1.5} />
        {SERIES.map((s) => (
          <Scatter key={s.name} name={s.name} data={toRows(s.points)} fill={s.color} shape={dotShape(s.color)} isAnimationActive={false} />
        ))}
        {HOUR_LINES.map((pts, i) => (
          <Scatter
            key={'hour' + i}
            data={toRows(pts)}
            shape={noShape}
            line={{ stroke: '#404040', strokeWidth: 0.75, markerMid: 'url(#hourArrow)', markerEnd: 'url(#hourArrow)' }}
            lineType="joint"
            isAnimationActive={false}
          />
        ))}
        <Scatter data={toRows(noonMarks)} shape={plusShape} isAnimationActive={false} />
        {LABEL_TEXT.map((t, i) => (
          <ReferenceDot
            key={t}
            x={LABEL_AZ[i]}
            y={LABEL_EL[i]}
            r={0}
            ifOverflow="visible"
            shape={(p: any) => <HourLabel {...p} text={t} />}
          />
        ))}
      </ScatterChart>
      {SERIES.filter((s) => s.legend).map((s, i) => {
        const x = LEGEND_COLS[i % 6];
        const y = LEGEND_ROWS[Math.floor(i / 6)];
        return (
          <React.Fragment key={s.name}>
            <div style={{ position: 'absolute', left: x - 4, top: y - 4, width: 8, height: 8, borderRadius: 4, background: s.color }} />
            <div style={{ position: 'absolute', left: x + 20, top: y - 11, height: 22, lineHeight: '22px', fontSize: 16.5, color: '#595959', whiteSpace: 'nowrap' }}>{s.name}</div>
          </React.Fragment>
        );
      })}
    </div>
  );
}
